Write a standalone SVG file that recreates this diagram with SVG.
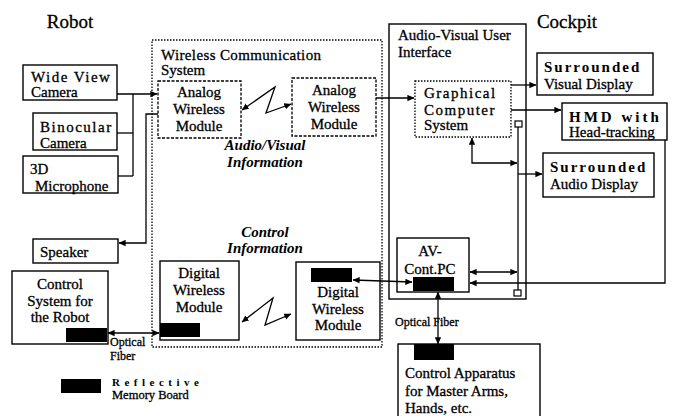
<svg xmlns="http://www.w3.org/2000/svg" width="675" height="416" viewBox="0 0 675 416">
<defs>
<marker id="ah" viewBox="0 0 10 10" refX="9.5" refY="5" markerWidth="7" markerHeight="7" markerUnits="userSpaceOnUse" orient="auto-start-reverse">
<path d="M0,0.5 L10,5 L0,9.5 Z" fill="#000"/>
</marker>
<style>
text{font-family:"Liberation Serif","DejaVu Serif",serif;font-size:15px;fill:#000;stroke:#000;stroke-width:0.3}
.c{text-anchor:middle}
.i{font-style:italic;font-weight:bold;stroke-width:0}
.sp{letter-spacing:1.5px}
.box{fill:#fff;stroke:#000;stroke-width:1.4}
.dash{fill:none;stroke:#000;stroke-width:1.3;stroke-dasharray:3,1.5}
.dot{fill:none;stroke:#000;stroke-width:1.3;stroke-dasharray:1.5,1.5}
.ln{fill:none;stroke:#000;stroke-width:1.3}
.arr{marker-end:url(#ah)}
.bi{marker-start:url(#ah);marker-end:url(#ah)}
.mem{fill:#000}
.title{font-size:19px}
.b{font-weight:bold;stroke-width:0}
.sm{font-size:12px}
</style>
</defs>
<rect width="675" height="416" fill="#fff"/>

<text class="title c" x="70" y="28">Robot</text>
<text class="title c" x="567" y="28">Cockpit</text>

<g id="wireless-system">
<rect class="dot" x="152" y="40" width="230" height="307"/>
<text x="161" y="60" textLength="160">Wireless Communication</text>
<text x="161" y="75">System</text>
<text class="c i" x="265" y="150">Audio/Visual</text>
<text class="c i" x="265" y="167">Information</text>
<text class="c i" x="265" y="237">Control</text>
<text class="c i" x="265" y="253">Information</text>
</g>

<g id="av-ui">
<rect class="box" x="389" y="24" width="137" height="275" fill="none"/>
<text x="398" y="40">Audio-Visual User</text>
<text x="398" y="57">Interface</text>
</g>

<g id="wide-view-camera">
<rect class="box" x="23" y="65" width="94" height="35"/>
<text class="sp" x="31" y="82">Wide View</text>
<text x="31" y="97">Camera</text>
</g>
<g id="binocular-camera">
<rect class="box" x="33" y="113" width="84" height="37"/>
<text class="sp" x="40" y="132">Binocular</text>
<text x="40" y="148">Camera</text>
</g>
<g id="microphone">
<rect class="box" x="23" y="156" width="95" height="37"/>
<text x="30" y="174">3D</text>
<text x="35" y="191">Microphone</text>
</g>
<g id="speaker">
<rect class="box" x="33" y="239" width="85" height="24"/>
<text x="40" y="257">Speaker</text>
</g>
<g id="control-system">
<rect class="box" x="12" y="271" width="96" height="73"/>
<text class="c" x="60" y="289">Control</text>
<text class="c" x="60" y="306">System for</text>
<text class="c" x="60" y="322">the Robot</text>
<rect class="mem" x="66" y="328" width="41" height="14"/>
</g>

<g id="analog-left">
<rect class="dash" x="158" y="81" width="83" height="57"/>
<text class="c" x="199" y="97">Analog</text>
<text class="c" x="199" y="114">Wireless</text>
<text class="c" x="199" y="131">Module</text>
</g>
<g id="analog-right">
<rect class="dash" x="292" y="78" width="84" height="58"/>
<text class="c" x="334" y="95">Analog</text>
<text class="c" x="334" y="112">Wireless</text>
<text class="c" x="334" y="129">Module</text>
</g>
<g id="digital-left">
<rect class="box" x="160" y="261" width="79" height="79"/>
<text class="c" x="199" y="278">Digital</text>
<text class="c" x="199" y="295">Wireless</text>
<text class="c" x="199" y="312">Module</text>
<rect class="mem" x="160" y="323" width="40" height="14"/>
</g>
<g id="digital-right">
<rect class="box" x="296" y="262" width="84" height="78"/>
<rect class="mem" x="311" y="268" width="41" height="14"/>
<text class="c" x="338" y="297">Digital</text>
<text class="c" x="338" y="314">Wireless</text>
<text class="c" x="338" y="330">Module</text>
</g>

<g id="graphical-computer">
<rect class="dot" x="415" y="81" width="96" height="56"/>
<text class="sp" x="424" y="98">Graphical</text>
<text class="sp" x="424" y="115">Computer</text>
<text x="424" y="130">System</text>
</g>
<g id="av-cont-pc">
<rect class="box" x="397" y="238" width="72" height="54"/>
<text class="c" x="430" y="256">AV-</text>
<text class="c" x="430" y="274">Cont.PC</text>
<rect class="mem" x="413" y="277" width="41" height="14"/>
</g>
<g id="visual-display">
<rect class="box" x="537" y="53" width="116" height="42"/>
<text class="b" x="544" y="72" style="letter-spacing:2px">Surrounded</text>
<text x="544" y="89">Visual Display</text>
</g>
<g id="hmd">
<rect class="box" x="562" y="103" width="105" height="37"/>
<text class="b" x="569" y="122" style="letter-spacing:3px">HMD  with</text>
<text x="569" y="137">Head-tracking</text>
</g>
<g id="audio-display">
<rect class="box" x="543" y="153" width="111" height="44"/>
<text class="b" x="550" y="172" style="letter-spacing:2px">Surrounded</text>
<text x="550" y="189">Audio Display</text>
</g>
<g id="control-apparatus">
<rect class="box" x="398" y="344" width="142" height="80"/>
<rect class="mem" x="414" y="344" width="40" height="16"/>
<text x="405" y="378">Control Apparatus</text>
<text x="405" y="396">for Master Arms,</text>
<text x="405" y="413">Hands, etc.</text>
</g>

<g id="legend">
<rect class="mem" x="61" y="379" width="40" height="14"/>
<text class="b" x="112" y="386" style="font-size:11px;letter-spacing:4.5px">Reflective</text>
<text x="112" y="399" style="font-size:12.5px">Memory Board</text>
</g>

<g id="connectors">
<polyline class="ln arr" points="117,94 157,94"/>
<polyline class="ln" points="133,94 133,176"/>
<polyline class="ln" points="117,133 133,133"/>
<polyline class="ln" points="118,176 133,176"/>
<polyline class="ln arr" points="158,114 146,114 146,243 119,243"/>
<path class="ln bi" d="M242,110 L275,87 L266,113 L291,104"/>
<polyline class="ln arr" points="376,98 414,98"/>
<polyline class="ln arr" points="511,85 536,85"/>
<polyline class="ln arr" points="511,110 561,110"/>
<polyline class="ln bi" points="472,138 472,163 517,163"/>
<line class="ln" x1="518" y1="127" x2="518" y2="290"/>
<rect x="515" y="121" width="7" height="6" fill="#fff" stroke="#000" stroke-width="1.2"/>
<rect x="514" y="290" width="7" height="6" fill="#fff" stroke="#000" stroke-width="1.2"/>
<polyline class="ln arr" points="518,174 542,174"/>
<polyline class="ln bi" points="470,272 517,272"/>
<polyline class="ln arr" points="665,140 665,283 470,283"/>
<path class="ln bi" d="M353,280 L412,282"/>
<path class="ln bi" d="M242,322 L273,298 L265,325 L291,314"/>
<polyline class="ln bi" points="108,333 159,333"/>
<polyline class="ln bi" points="438,292 438,344"/>
<text class="sm" x="110" y="346">Optical</text>
<text class="sm" x="110" y="360">Fiber</text>
<text class="sm" x="395" y="326">Optical Fiber</text>
</g>
</svg>
